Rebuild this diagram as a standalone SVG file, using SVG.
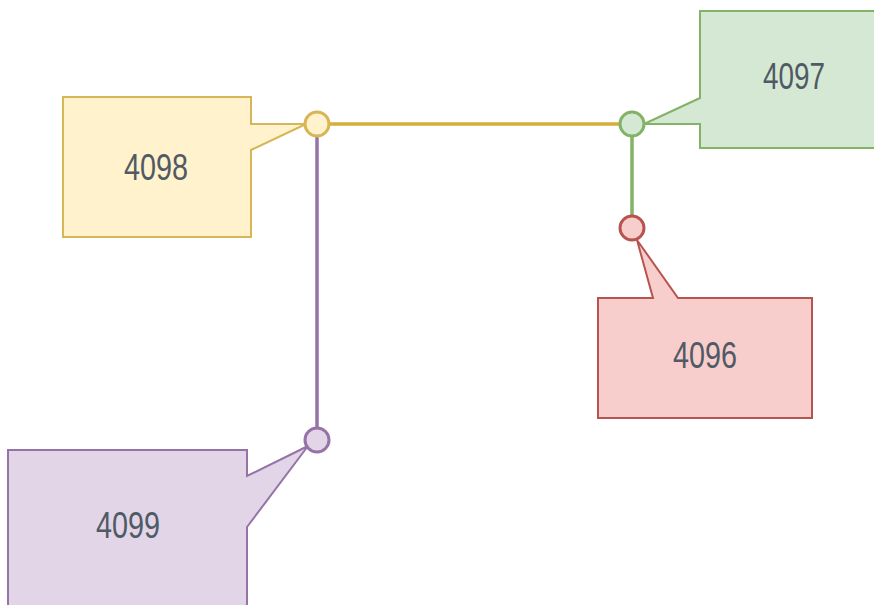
<svg xmlns="http://www.w3.org/2000/svg" width="874" height="605" viewBox="0 0 874 605">
<style>
.lbl{font-family:"Liberation Sans","DejaVu Sans",sans-serif;font-size:37px;fill:#505a64;text-anchor:middle}
.y{fill:#fff2cc;stroke:#d6b656;stroke-width:2}
.g{fill:#d5e8d4;stroke:#82b366;stroke-width:2}
.r{fill:#f8cecc;stroke:#b85450;stroke-width:2}
.p{fill:#e1d5e7;stroke:#9673a6;stroke-width:2}
.dot{stroke-width:3}
</style>
<rect width="874" height="605" fill="#ffffff"/>
<g id="connectors" fill="none" stroke-width="3.5">
<line x1="317" y1="124" x2="317" y2="440" stroke="#9673a6"/>
<line x1="632" y1="124" x2="632" y2="228" stroke="#82b366"/>
<line x1="317" y1="124" x2="632" y2="124" stroke="#d6ae3a"/>
</g>
<g id="node4098">
<path class="y" d="M63,97 H251 V124 L306,124 L251,150 V237 H63 Z"/>
<circle class="y dot" cx="317" cy="124" r="12"/>
<text class="lbl" x="156" y="180" textLength="64" lengthAdjust="spacingAndGlyphs">4098</text>
</g>
<g id="node4097">
<path class="g" d="M700,11 H880 V148 H700 V124 L644,124 L700,98 Z"/>
<circle class="g dot" cx="632" cy="124" r="12"/>
<text class="lbl" x="794" y="89" textLength="62" lengthAdjust="spacingAndGlyphs">4097</text>
</g>
<g id="node4096">
<path class="r" d="M598,298 H653 L637,240 L678,298 H812 V418 H598 Z"/>
<circle class="r dot" cx="632" cy="228" r="12"/>
<text class="lbl" x="705" y="368" textLength="64" lengthAdjust="spacingAndGlyphs">4096</text>
</g>
<g id="node4099">
<path class="p" d="M8,450 H247 V476 L308,446 L247,527 V612 H8 Z"/>
<circle class="p dot" cx="317" cy="440" r="12"/>
<text class="lbl" x="128" y="538" textLength="64" lengthAdjust="spacingAndGlyphs">4099</text>
</g>
</svg>
